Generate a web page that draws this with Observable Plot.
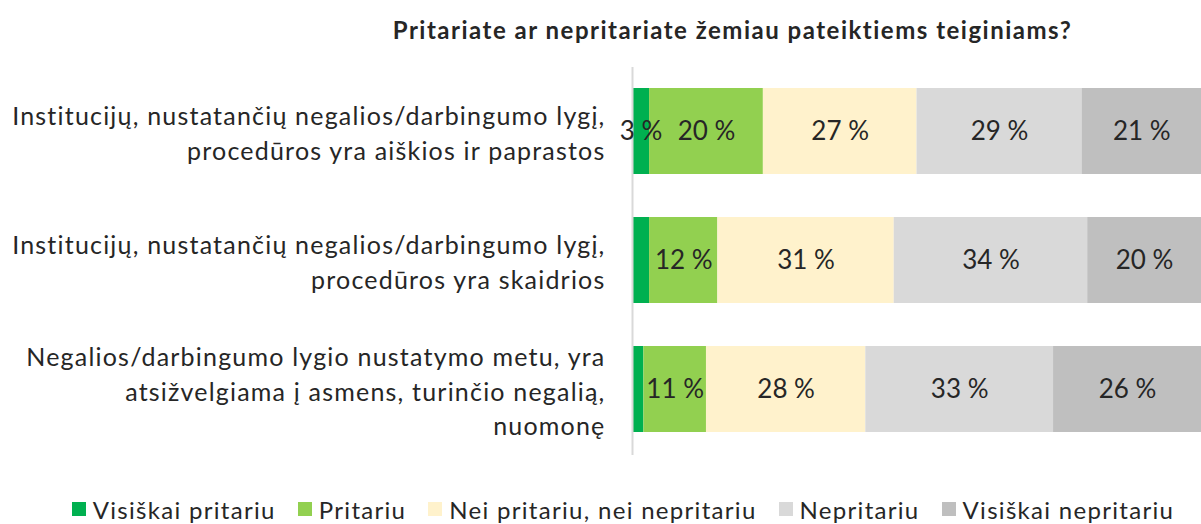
<!DOCTYPE html>
<html>
<head>
<meta charset="utf-8">
<script src="https://cdn.jsdelivr.net/npm/d3@7"></script>
<script src="https://cdn.jsdelivr.net/npm/@observablehq/plot@0.6"></script>
<style>
  html, body { margin: 0; padding: 0; background: #fff; }
  body { width: 1201px; height: 524px; overflow: hidden; font-family: Lato, "Open Sans", sans-serif; color: #262626; }
  #title { height: 58px; width: 937px; margin-left: 264px; text-align: center; font-weight: bold; font-size: 24px; letter-spacing: 1.5px; line-height: 60px; }
  #legend { display: flex; justify-content: center; align-items: center; gap: 22px; font-size: 24px; letter-spacing: 1.3px; height: 40px; margin-left: 45px; margin-top: 19px; }
  #legend .item { display: flex; align-items: center; gap: 7px; }
  #legend .sw { width: 14px; height: 14px; display: inline-block; }
</style>
</head>
<body>
<div id="title">Pritariate ar nepritariate žemiau pateiktiems teiginiams?</div>
<div id="chart"></div>
<div id="legend"></div>
<script>
const categories = [
  "Institucijų, nustatančių negalios/darbingumo lygį,\nprocedūros yra aiškios ir paprastos",
  "Institucijų, nustatančių negalios/darbingumo lygį,\nprocedūros yra skaidrios",
  "Negalios/darbingumo lygio nustatymo metu, yra\natsižvelgiama į asmens, turinčio negalią,\nnuomonę"
];
const seriesNames = ["Visiškai pritariu", "Pritariu", "Nei pritariu, nei nepritariu", "Nepritariu", "Visiškai nepritariu"];
const seriesColors = ["#00B050", "#92D050", "#FFF2CC", "#D9D9D9", "#BFBFBF"];
const visiskaiPritariu = [3, 3, 2];
const pritariu = [20, 12, 11];
const neiPritariuNeiNepritariu = [27, 31, 28];
const nepritariu = [29, 34, 33];
const visiskaiNepritariu = [21, 20, 26];
// which value labels are shown (first segment label only visible in row 1)
const labelShown = [
  [true, false, false],
  [true, true, true],
  [true, true, true],
  [true, true, true],
  [true, true, true]
];

const seriesValues = [visiskaiPritariu, pritariu, neiPritariuNeiNepritariu, nepritariu, visiskaiNepritariu];
const data = [];
seriesNames.forEach((s, si) => {
  categories.forEach((c, ci) => {
    data.push({cat: c, series: s, value: seriesValues[si][ci], shown: labelShown[si][ci]});
  });
});

const chart = Plot.plot({
  width: 1201,
  height: 412,
  marginLeft: 632,
  marginRight: 0,
  marginTop: 16,
  marginBottom: 23,
  style: {fontFamily: "Lato, 'Open Sans', sans-serif", color: "#262626", background: "white"},
  x: {domain: [0, 100], axis: null},
  y: {domain: categories, axis: null, paddingInner: 0.33, paddingOuter: 0.1},
  color: {domain: seriesNames, range: seriesColors},
  marks: [
    Plot.barX(data, Plot.stackX({x: "value", y: "cat", fill: "series", order: seriesNames})),
    Plot.ruleX([0], {stroke: "#D9D9D9", strokeWidth: 2, insetTop: -7, insetBottom: -8}),
    Plot.text(data, Plot.stackX({x: "value", y: "cat", z: "series", order: seriesNames,
      text: d => d.shown ? d.value + " %" : null, fontSize: 26, fill: "#262626"})),
    Plot.text(categories, {x: 0, y: d => d, text: d => d, textAnchor: "end", dx: -27,
      fontSize: 25, lineHeight: 1.38, fill: "#262626"})
  ]
});
d3.select(chart).selectAll("g[aria-label='text']").filter((d, i) => i === 1).attr("letter-spacing", "1.2");
document.getElementById("chart").appendChild(chart);

const legend = document.getElementById("legend");
seriesNames.forEach((s, i) => {
  const item = document.createElement("div");
  item.className = "item";
  const sw = document.createElement("span");
  sw.className = "sw";
  sw.style.background = seriesColors[i];
  const t = document.createElement("span");
  t.textContent = s;
  item.appendChild(sw);
  item.appendChild(t);
  legend.appendChild(item);
});
</script>
</body>
</html>
